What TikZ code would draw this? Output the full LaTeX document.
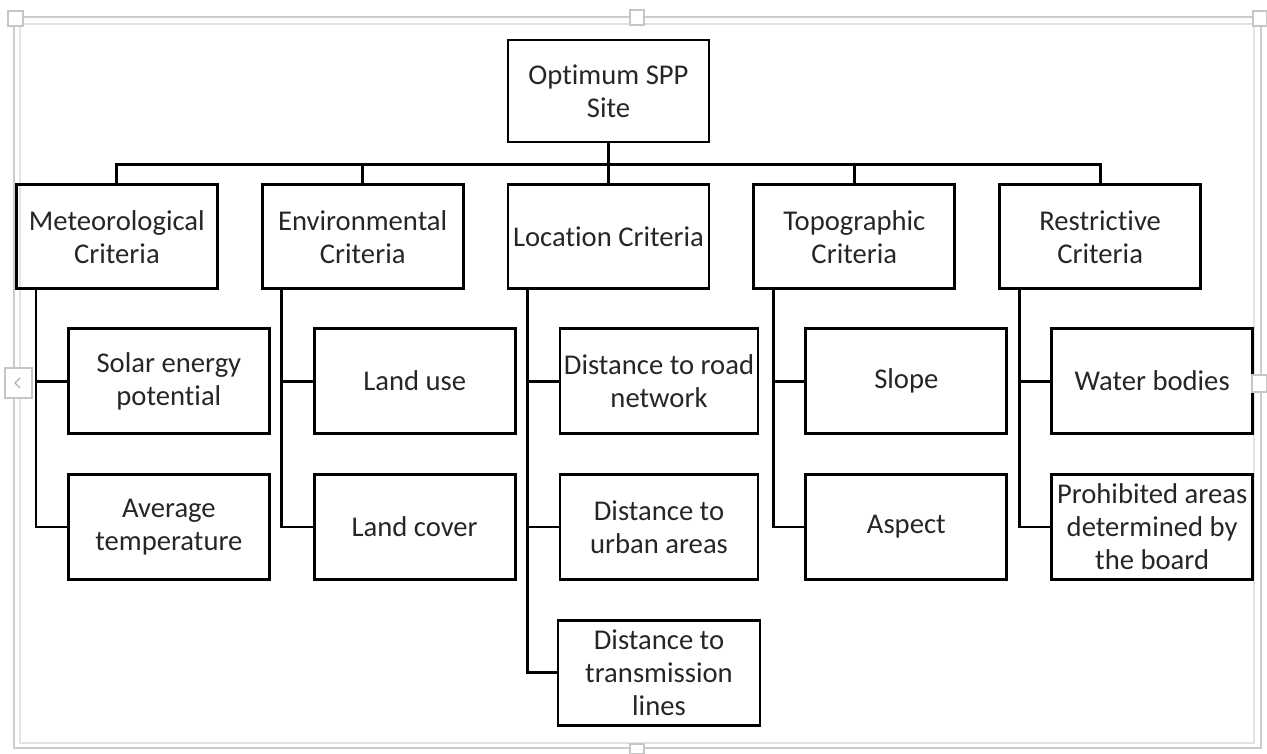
\documentclass[tikz,border=0pt]{standalone}
\usepackage{fontspec}
\setmainfont{Carlito}[Ligatures=NoCommon]
\usetikzlibrary{positioning}

\begin{document}
\begin{tikzpicture}[
  crit/.style={draw, line width=1.6pt, align=center,
    font=\fontsize{16.3}{18.8}\selectfont, text=black!85,
    minimum width=4.02cm, minimum height=2.08cm, inner sep=1pt},
  link/.style={line width=1.6pt},
  handle/.style={draw=gray!45, fill=white, line width=0.6pt}
]
  \useasboundingbox (0,0) rectangle (25.34,-15.08);
  % selection frame
  \draw[gray!40, line width=0.8pt] (0.28,-0.34) rectangle (25.22,-14.96);
  \draw[gray!22, line width=0.8pt] (0.4,-0.48) rectangle (25.08,-14.86);

  \node[crit, minimum height=2.04cm] (root) at (12.17,-1.82) {Optimum SPP\\Site};
  \node[crit, below=0.8cm of root] (loc) {Location Criteria};
  \node[crit, left=0.84cm of loc] (env) {Environmental\\Criteria};
  \node[crit, left=0.84cm of env] (met) {Meteorological\\Criteria};
  \node[crit, right=0.84cm of loc] (topo) {Topographic\\Criteria};
  \node[crit, right=0.84cm of topo] (restr) {Restrictive\\Criteria};

  \node[crit, below=0.74cm of met.south west, anchor=north west, xshift=1.04cm,
    minimum height=2.1cm] (solar) {Solar energy\\potential};
  \node[crit, below=0.76cm of solar, minimum height=2.1cm] (avgtemp) {Average\\temperature};
  \node[crit, below=0.74cm of env.south west, anchor=north west, xshift=1.04cm,
    minimum height=2.1cm] (landuse) {Land use};
  \node[crit, below=0.76cm of landuse, minimum height=2.1cm] (landcover) {Land cover};
  \node[crit, below=0.74cm of loc.south west, anchor=north west, xshift=1.04cm,
    minimum width=3.96cm, minimum height=2.1cm] (road) {Distance to road\\network};
  \node[crit, below=0.76cm of road, minimum width=3.96cm, minimum height=2.1cm]
    (urban) {Distance to\\urban areas};
  \node[crit, below=0.76cm of urban, minimum width=4.04cm, minimum height=2.1cm]
    (trans) {Distance to\\transmission\\lines};
  \node[crit, below=0.74cm of topo.south west, anchor=north west, xshift=1.04cm,
    minimum height=2.1cm] (slope) {Slope};
  \node[crit, below=0.76cm of slope, minimum height=2.1cm] (aspect) {Aspect};
  \node[crit, below=0.74cm of restr.south west, anchor=north west, xshift=1.04cm,
    minimum height=2.1cm] (water) {Water bodies};
  \node[crit, below=0.76cm of water, minimum height=2.1cm] (prohib)
    {Prohibited areas\\determined by\\the board};

  \draw[link] (root.south) -- ++(0,-0.43) coordinate (hub);
  \foreach \n in {met,env,loc,topo,restr}
    \draw[link] (hub) -| (\n.north);

  \draw[link] ([xshift=0.42cm]met.south west) |- (solar.west);
  \draw[link] ([xshift=0.42cm]met.south west) |- (avgtemp.west);
  \draw[link] ([xshift=0.42cm]env.south west) |- (landuse.west);
  \draw[link] ([xshift=0.42cm]env.south west) |- (landcover.west);
  \draw[link] ([xshift=0.42cm]loc.south west) |- (road.west);
  \draw[link] ([xshift=0.42cm]loc.south west) |- (urban.west);
  \draw[link] ([xshift=0.42cm]loc.south west) |- (trans.west);
  \draw[link] ([xshift=0.42cm]topo.south west) |- (slope.west);
  \draw[link] ([xshift=0.42cm]topo.south west) |- (aspect.west);
  \draw[link] ([xshift=0.42cm]restr.south west) |- (water.west);
  \draw[link] ([xshift=0.42cm]restr.south west) |- (prohib.west);

  % frame handles
  \draw[handle] (0.16,-0.22) rectangle (0.46,-0.52);
  \draw[handle] (25.06,-0.22) rectangle (25.34,-0.52);
  \draw[handle] (12.6,-0.2) rectangle (12.88,-0.5);
  \draw[handle] (12.6,-14.88) rectangle (12.88,-15.08);
  \draw[handle] (0.1,-7.36) rectangle (0.64,-7.96);
  \draw[gray!60, line width=0.7pt] (0.4,-7.56) -- (0.3,-7.66) -- (0.4,-7.76);
  \draw[handle] (25.04,-7.5) rectangle (25.34,-7.84);
\end{tikzpicture}
\end{document}
